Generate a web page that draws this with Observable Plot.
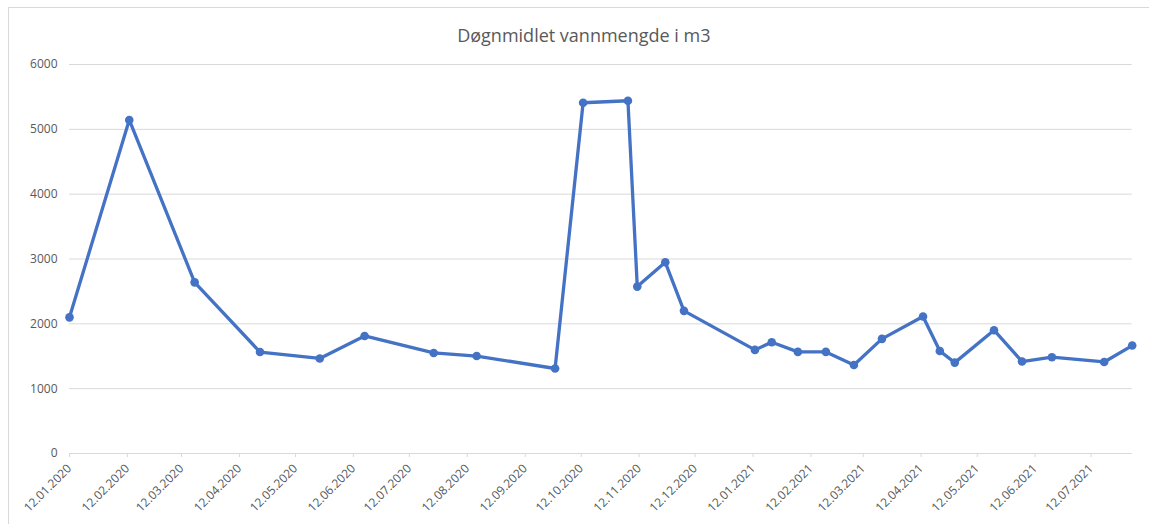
<!DOCTYPE html>
<html><head><meta charset="utf-8">
<script src="https://cdn.jsdelivr.net/npm/d3@7"></script>
<script src="https://cdn.jsdelivr.net/npm/@observablehq/plot@0.6"></script>
<style>
html,body{margin:0;padding:0;background:#fff;}
#wrap{position:relative;width:1149px;height:524px;overflow:hidden;}
#border{position:absolute;left:8px;top:7px;width:1300px;height:700px;border:1px solid #d9d9d9;box-sizing:border-box;pointer-events:none;}
</style></head><body>
<div id="wrap"></div>
<script>
const title = "Døgnmidlet vannmengde i m3";
const dates = ["2020-01-12","2020-02-13","2020-03-19","2020-04-23","2020-05-25","2020-06-18","2020-07-25","2020-08-17","2020-09-28","2020-10-13","2020-11-06","2020-11-11","2020-11-26","2020-12-06","2021-01-13","2021-01-22","2021-02-05","2021-02-20","2021-03-07","2021-03-22","2021-04-13","2021-04-22","2021-04-30","2021-05-21","2021-06-05","2021-06-21","2021-07-19","2021-08-03"];
const values = [2100,5145,2640,1565,1466,1813,1551,1503,1311,5410,5441,2574,2949,2200,1598,1716,1567,1567,1366,1768,2113,1582,1402,1902,1418,1485,1412,1665];
const xTickDates = ["2020-01-12","2020-02-12","2020-03-12","2020-04-12","2020-05-12","2020-06-12","2020-07-12","2020-08-12","2020-09-12","2020-10-12","2020-11-12","2020-12-12","2021-01-12","2021-02-12","2021-03-12","2021-04-12","2021-05-12","2021-06-12","2021-07-12"];
const yTicks = [0,1000,2000,3000,4000,5000,6000];

const parse = s => new Date(s + "T00:00:00Z");
const data = dates.map((d, i) => ({date: parse(d), value: values[i]}));
const xTicks = xTickDates.map(parse);
const fmt = d3.utcFormat("%d.%m.%Y");

const lineColor = "#4472C4";
const gridColor = "#d9d9d9";
const textColor = "#595959";

const chart = Plot.plot({
  width: 1149,
  height: 524,
  marginLeft: 69,
  marginRight: 17.3,
  marginTop: 64,
  marginBottom: 71,
  style: {background: "transparent", fontFamily: "'Open Sans', sans-serif", fontSize: "12px", color: textColor},
  x: {type: "utc", domain: [data[0].date, data[data.length - 1].date]},
  y: {domain: [0, 6000]},
  marks: [
    Plot.ruleY(yTicks, {stroke: gridColor, strokeWidth: 1}),
    Plot.axisY({ticks: yTicks, tickSize: 0, tickPadding: 12, tickFormat: d => String(d), fill: textColor, fontSize: 12, label: null}),
    Plot.axisX({ticks: xTicks, tickSize: 4, stroke: gridColor, tickFormat: () => "", label: null}),
    Plot.axisX({ticks: xTicks, tickSize: 0, tickPadding: 13, tickRotate: -45, tickFormat: fmt, textAnchor: "end", fill: textColor, fontSize: 12, label: null}),
    Plot.line(data, {x: "date", y: "value", stroke: lineColor, strokeWidth: 3.3, strokeLinejoin: "round"}),
    Plot.dot(data, {x: "date", y: "value", r: 4.3, fill: lineColor, stroke: "none"}),
    Plot.text([title], {frameAnchor: "top", dx: -17, dy: -23, lineAnchor: "bottom", fontSize: 18, fill: textColor, fontFamily: "'Open Sans', sans-serif"})
  ]
});
const wrap = document.getElementById("wrap");
wrap.appendChild(chart);
const b = document.createElement("div");
b.id = "border";
wrap.appendChild(b);
</script>
</body></html>
